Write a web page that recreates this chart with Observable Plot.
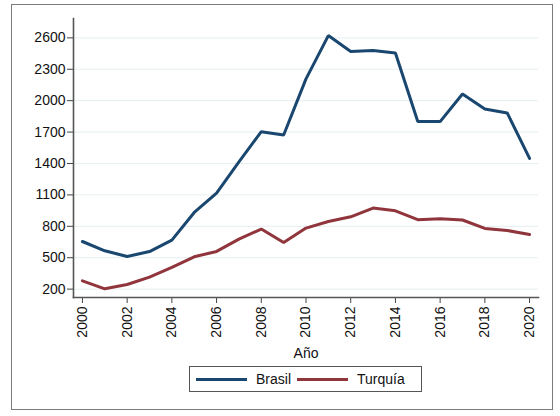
<!DOCTYPE html>
<html>
<head>
<meta charset="utf-8">
<script src="https://cdn.jsdelivr.net/npm/d3@7"></script>
<script src="https://cdn.jsdelivr.net/npm/@observablehq/plot@0.6"></script>
<style>
  body { margin: 0; background: #fff; }
  #wrap { position: relative; width: 560px; height: 416px; font-family: "Liberation Sans", Arial, sans-serif; }
  #frame { position: absolute; left: 11px; top: 4px; width: 542px; height: 406px; box-sizing: border-box; border: 1px solid #7a7a7a; }
  #chart { position: absolute; left: 0; top: 0; }
  #legend { position: absolute; left: 189px; top: 366px; width: 233px; height: 26px; box-sizing: border-box;
            border: 1px solid #555; display: flex; align-items: center; font-size: 14px; color: #111; }
  .item { display: flex; align-items: center; }
  .sw { display: inline-block; width: 51px; height: 3px; margin: 0 9px 0 6px; }
</style>
</head>
<body>
<div id="wrap">
  <div id="frame"></div>
  <div id="chart"></div>
  <div id="legend"></div>
</div>
<script>
// years on the x axis
const years = d3.range(2000, 2021);

// values
const brasil = [655, 566, 512, 559, 668, 932, 1118, 1415, 1704, 1672, 2208, 2622, 2469, 2479, 2456, 1802, 1800, 2064, 1921, 1883, 1449];
const turquia = [279, 203, 244, 315, 407, 509, 560, 678, 774, 646, 783, 846, 891, 974, 948, 863, 872, 860, 780, 760, 722];

const xTicks = d3.range(2000, 2021, 2);
const yTicks = [200, 500, 800, 1100, 1400, 1700, 2000, 2300, 2600];

const series = [
  { name: "Brasil", color: "#1a476f", values: brasil },
  { name: "Turquía", color: "#90353b", values: turquia }
];

const rows = series.flatMap(s => years.map((year, i) => ({ year, value: s.values[i], name: s.name })));

const plot = Plot.plot({
  width: 560,
  height: 362,
  marginLeft: 73,
  marginRight: 22,
  marginTop: 18,
  marginBottom: 65,
  style: { background: "transparent", fontFamily: "'Liberation Sans', Arial, sans-serif", fontSize: "14px", color: "#111" },
  x: { domain: [1999.6, 2020.4] },
  y: { domain: [120, 2785] },
  color: { domain: series.map(s => s.name), range: series.map(s => s.color) },
  marks: [
    Plot.gridY(yTicks, { stroke: "#e6eff1", strokeOpacity: 1, strokeWidth: 1 }),
    Plot.axisY(yTicks, { tickSize: 6, tickPadding: 2, stroke: "#444", label: null, fontSize: 14, tickFormat: d => String(d) }),
    Plot.axisX(xTicks, { tickSize: 6, tickPadding: 3, tickRotate: -90, tickFormat: d => String(d), stroke: "#444",
      label: "Año", labelAnchor: "center", labelArrow: "none", labelOffset: 60, fontSize: 14 }),
    Plot.frame({ anchor: "left", stroke: "#555", strokeWidth: 1.6 }),
    Plot.frame({ anchor: "bottom", stroke: "#555", strokeWidth: 1.6 }),
    Plot.line(rows, { x: "year", y: "value", z: "name", stroke: "name", strokeWidth: 3, strokeLinejoin: "miter" })
  ]
});
document.getElementById("chart").appendChild(plot);

const legend = document.getElementById("legend");
for (const s of series) {
  const item = document.createElement("div");
  item.className = "item";
  const sw = document.createElement("span");
  sw.className = "sw";
  sw.style.background = s.color;
  const label = document.createElement("span");
  label.textContent = s.name;
  item.appendChild(sw);
  item.appendChild(label);
  legend.appendChild(item);
}
</script>
</body>
</html>
